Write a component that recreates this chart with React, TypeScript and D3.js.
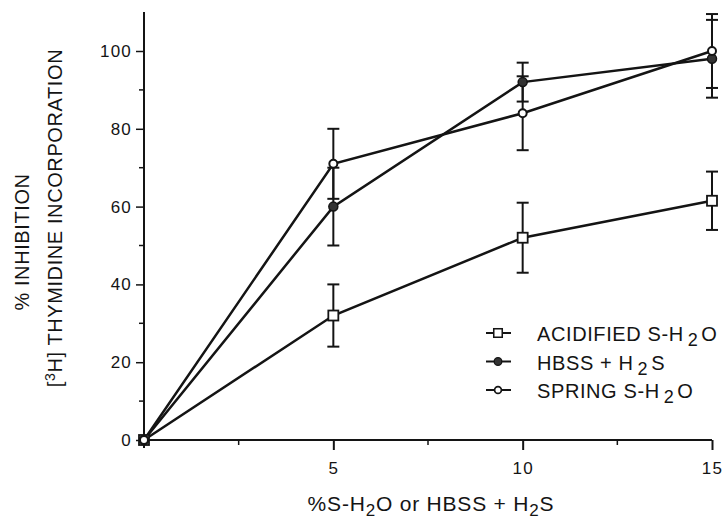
import { useEffect, useRef } from "react";
import * as d3 from "d3";

// % of S-H2O or HBSS + H2S
const doses = [0, 5, 10, 15];

// mean % inhibition and error (±) for each series
const acidified = [0, 32, 52, 61.5];
const acidifiedErr = [0, 8, 9, 7.5];
const hbss = [0, 60, 92, 98];
const hbssErr = [0, 10, 5, 10];
const spring = [0, 71, 84, 100];
const springErr = [0, 9, 9.5, 9.5];

const xMajorTicks = [5, 10, 15];
const xMinorTicks = [2.5, 7.5, 12.5];
const yMajorTicks = [0, 20, 40, 60, 80, 100];
const yMinorTicks = [10, 30, 50, 70, 90];

const INK = "#141414";
const FONT = "'Liberation Sans', Arial, Helvetica, sans-serif";

type Marker = "square" | "filled" | "open";

export default function App() {
  const svgRef = useRef<SVGSVGElement>(null);
  const width = 728;
  const height = 521;

  useEffect(() => {
    if (!svgRef.current) return;
    const svg = d3.select(svgRef.current);
    svg.selectAll("*").remove();

    const x = d3.scaleLinear().domain([0, 15]).range([144, 712]);
    const y = d3.scaleLinear().domain([0, 110]).range([440, 12.1]);

    // y axis line, runs a little past the origin like the original
    svg.append("line")
      .attr("x1", x(0)).attr("x2", x(0))
      .attr("y1", y(110)).attr("y2", y(0) + 8)
      .attr("stroke", INK).attr("stroke-width", 2);

    const yAxis = svg.append("g").attr("transform", `translate(${x(0)},0)`);
    yAxis.call(d3.axisLeft(y).tickValues(yMajorTicks).tickSize(8).tickPadding(4).tickFormat(d3.format("d")));
    yAxis.select(".domain").remove();
    yAxis.selectAll(".tick line").attr("stroke", INK).attr("stroke-width", 1.5);
    yAxis.selectAll("text")
      .attr("fill", INK).attr("font-size", 17).attr("letter-spacing", 1.2).attr("font-family", FONT);

    svg.append("g").selectAll("line")
      .data(yMinorTicks)
      .join("line")
      .attr("x1", x(0) - 5).attr("x2", x(0))
      .attr("y1", (d) => y(d)).attr("y2", (d) => y(d))
      .attr("stroke", INK).attr("stroke-width", 1.5);

    // x axis
    const xAxis = svg.append("g").attr("transform", `translate(0,${y(0)})`);
    xAxis.call(d3.axisBottom(x).tickValues(xMajorTicks).tickSize(10).tickPadding(12).tickFormat(d3.format("d")));
    xAxis.select(".domain")
      .attr("stroke", INK).attr("stroke-width", 2)
      .attr("d", `M${x(0)},0H${x(15)}`);
    xAxis.selectAll(".tick line").attr("stroke", INK).attr("stroke-width", 2);
    xAxis.selectAll("text")
      .attr("fill", INK).attr("font-size", 17).attr("letter-spacing", 1.2).attr("font-family", FONT);

    svg.append("g").selectAll("line")
      .data(xMinorTicks)
      .join("line")
      .attr("x1", (d) => x(d)).attr("x2", (d) => x(d))
      .attr("y1", y(0)).attr("y2", y(0) + 5)
      .attr("stroke", INK).attr("stroke-width", 1.5);

    // axis titles
    const yTitle = svg.append("g")
      .attr("font-family", FONT).attr("font-size", 20).attr("fill", INK)
      .attr("letter-spacing", 0.6)
      .attr("text-anchor", "middle");
    yTitle.append("text")
      .attr("transform", "translate(29,242) rotate(-90)")
      .text("% INHIBITION");
    const yt2 = yTitle.append("text")
      .attr("transform", "translate(62,218) rotate(-90)");
    yt2.append("tspan").text("[");
    yt2.append("tspan").attr("font-size", 14).attr("dy", -7).text("3");
    yt2.append("tspan").attr("dy", 7).text("H] THYMIDINE INCORPORATION");

    const xTitle = svg.append("text")
      .attr("x", 431).attr("y", 511)
      .attr("text-anchor", "middle")
      .attr("letter-spacing", 0.8)
      .attr("font-family", FONT).attr("font-size", 21).attr("fill", INK);
    xTitle.append("tspan").text("%S-H");
    xTitle.append("tspan").attr("dy", 5).attr("font-size", 17).text("2");
    xTitle.append("tspan").attr("dy", -5).text("O or HBSS + H");
    xTitle.append("tspan").attr("dy", 5).attr("font-size", 17).text("2");
    xTitle.append("tspan").attr("dy", -5).text("S");

    const series: { vals: number[]; err: number[]; marker: Marker }[] = [
      { vals: acidified, err: acidifiedErr, marker: "square" },
      { vals: hbss, err: hbssErr, marker: "filled" },
      { vals: spring, err: springErr, marker: "open" },
    ];

    const line = d3.line<number>()
      .x((_, i) => x(doses[i]))
      .y((d) => y(d));

    const drawMarker = (g: any, cx: number, cy: number, m: Marker) => {
      if (m === "square") {
        g.append("rect")
          .attr("x", cx - 5).attr("y", cy - 5).attr("width", 10).attr("height", 10)
          .attr("fill", "#fff").attr("stroke", INK).attr("stroke-width", 1.8);
      } else if (m === "filled") {
        g.append("circle")
          .attr("cx", cx).attr("cy", cy).attr("r", 4.5)
          .attr("fill", "#333").attr("stroke", INK).attr("stroke-width", 1.5);
      } else {
        g.append("circle")
          .attr("cx", cx).attr("cy", cy).attr("r", 4)
          .attr("fill", "#fff").attr("stroke", INK).attr("stroke-width", 2);
      }
    };

    const plot = svg.append("g");
    series.forEach((s) => {
      // error bars
      s.vals.forEach((v, i) => {
        if (!s.err[i]) return;
        const cx = x(doses[i]);
        const top = y(v + s.err[i]);
        const bot = y(v - s.err[i]);
        plot.append("line").attr("x1", cx).attr("x2", cx).attr("y1", top).attr("y2", bot)
          .attr("stroke", INK).attr("stroke-width", 2);
        [top, bot].forEach((yy) => {
          plot.append("line").attr("x1", cx - 6).attr("x2", cx + 6).attr("y1", yy).attr("y2", yy)
            .attr("stroke", INK).attr("stroke-width", 2);
        });
      });
      plot.append("path")
        .datum(s.vals)
        .attr("d", line)
        .attr("fill", "none")
        .attr("stroke", INK)
        .attr("stroke-width", 2.5);
    });
    series.forEach((s) => {
      s.vals.forEach((v, i) => drawMarker(plot, x(doses[i]), y(v), s.marker));
    });

    // legend
    const legendItems: { marker: Marker; parts: [string, boolean][] }[] = [
      { marker: "square", parts: [["ACIDIFIED S-H", false], ["2", true], ["O", false]] },
      { marker: "filled", parts: [["HBSS + H", false], ["2", true], ["S", false]] },
      { marker: "open", parts: [["SPRING S-H", false], ["2", true], ["O", false]] },
    ];
    const legend = svg.append("g");
    legendItems.forEach((it, i) => {
      const ly = 333 + i * 28.5;
      legend.append("line").attr("x1", 486).attr("x2", 511).attr("y1", ly).attr("y2", ly)
        .attr("stroke", INK).attr("stroke-width", 2);
      const mg = legend.append("g").attr("transform", `translate(498,${ly}) scale(0.85) translate(-498,${-ly})`);
      drawMarker(mg, 498, ly, it.marker);
      const t = legend.append("text")
        .attr("x", 537).attr("y", ly + 8)
        .attr("letter-spacing", 0.6)
        .attr("font-family", FONT).attr("font-size", 20).attr("fill", INK);
      it.parts.forEach(([str, sub], k) => {
        if (sub) t.append("tspan").attr("dx", 4).attr("dy", 5).attr("font-size", 18).text(str);
        else t.append("tspan").attr("dy", k ? -5 : 0).attr("dx", k ? 3 : 0).text(str);
      });
    });
  }, []);

  return (
    <svg
      ref={svgRef}
      width={width}
      height={height}
      style={{ position: "absolute", left: 0, top: 0, background: "#fff" }}
    />
  );
}
